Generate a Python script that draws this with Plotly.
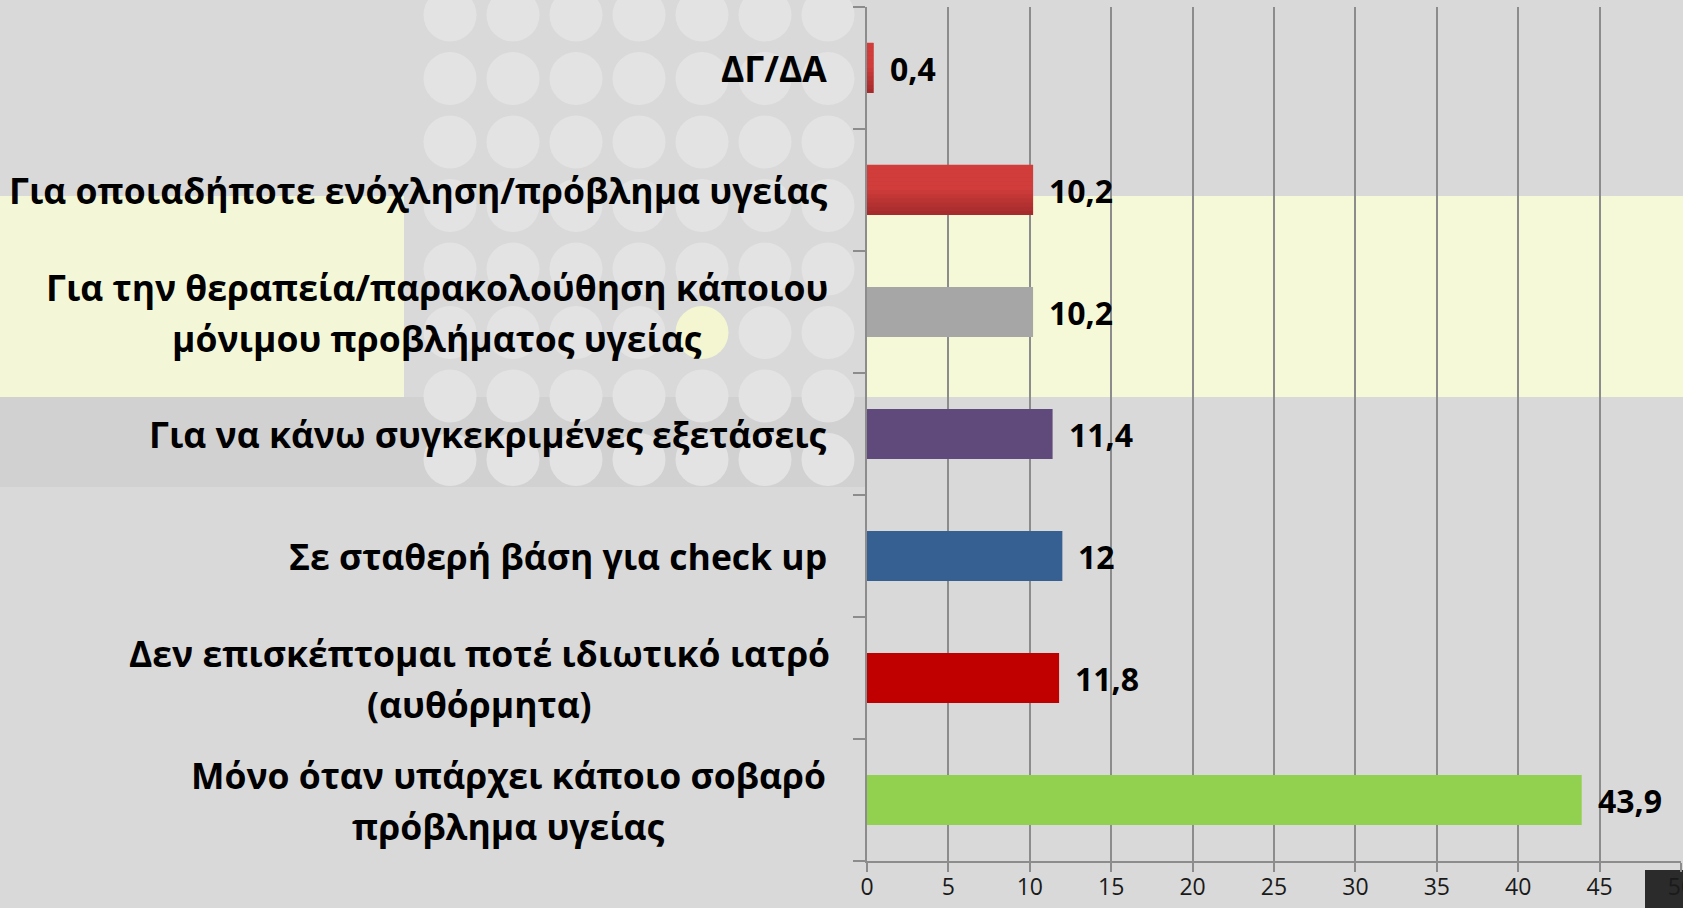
import plotly.graph_objects as go

# ---- data (bottom to top) ----
category_keys = [
    "Μόνο όταν υπάρχει κάποιο σοβαρό πρόβλημα υγείας",
    "Δεν επισκέπτομαι ποτέ ιδιωτικό ιατρό (αυθόρμητα)",
    "Σε σταθερή βάση για check up",
    "Για να κάνω συγκεκριμένες εξετάσεις",
    "Για την θεραπεία/παρακολούθηση κάποιου μόνιμου προβλήματος υγείας",
    "Για οποιαδήποτε ενόχληση/πρόβλημα υγείας",
    "ΔΓ/ΔΑ",
]
category_lines = [
    ["Μόνο όταν υπάρχει κάποιο σοβαρό", "πρόβλημα υγείας"],
    ["Δεν επισκέπτομαι ποτέ ιδιωτικό ιατρό", "(αυθόρμητα)"],
    ["Σε σταθερή βάση για check up"],
    ["Για να κάνω συγκεκριμένες εξετάσεις"],
    ["Για την θεραπεία/παρακολούθηση κάποιου", "μόνιμου προβλήματος υγείας"],
    ["Για οποιαδήποτε ενόχληση/πρόβλημα υγείας"],
    ["ΔΓ/ΔΑ"],
]
values = [43.9, 11.8, 12, 11.4, 10.2, 10.2, 0.4]
bar_colors = ["#92d050", "#c00000", "#376092", "#604a7b", "#a6a6a6", "#bd3737", "#c43a37"]
gradient_bars = [5, 6]   # bars drawn with a red top-to-bottom gradient
x_tickvals = [0, 5, 10, 15, 20, 25, 30, 35, 40, 45, 50]
x_ticktext = ["0", "5", "10", "15", "20", "25", "30", "35", "40", "45", "50"]

# ---- page geometry (pixels) ----
W, H = 1683, 908
L, R, T, B = 867, 2, 7, 47
PW, PH = W - L - R, H - T - B

def px(x):
    return (x - L) / PW

def py(y):
    return (H - B - y) / PH

BG = "#d9d9d9"
GRID = "#8c8c8c"
FONT = "Open Sans, Noto Sans, DejaVu Sans, sans-serif"
LABEL_RIGHT = 829            # right edge of category labels (px)
LINE_SPACING = 51            # px between lines of two-line labels
MULTI_CENTER = {0: 508, 1: 479, 4: 437}   # horizontal centres of two-line labels (px)
BAR_W = 0.41

fig = go.Figure()
fig.add_trace(go.Bar(
    x=values, y=category_keys, orientation="h", width=BAR_W,
    marker=dict(color=bar_colors, line=dict(width=0)),
    hoverinfo="x+y", showlegend=False,
))

# gradient overlay for the red bars (light top -> dark bottom)
N = 12
top_rgb = (0xd1, 0x3d, 0x3b)
bot_rgb = (0xa1, 0x2a, 0x2b)
gx = [values[i] for i in gradient_bars]
gy = [category_keys[i] for i in gradient_bars]
for s in range(N):
    t = (s + 0.5) / N                      # 0 = bottom, 1 = top
    f = min(1.0, t / 0.55)                 # upper part stays light
    c = tuple(round(b + (a - b) * f) for a, b in zip(top_rgb, bot_rgb))
    fig.add_trace(go.Bar(
        x=gx, y=gy, orientation="h", width=BAR_W / N + 0.002,
        offset=-BAR_W / 2 + s * BAR_W / N,
        marker=dict(color="rgb(%d,%d,%d)" % c, line=dict(width=0)),
        hoverinfo="skip", showlegend=False,
    ))

# value labels
value_text = [f"{v:g}".replace(".", ",") for v in values]
for k, v, t in zip(category_keys, values, value_text):
    fig.add_annotation(x=v, y=k, xref="x", yref="y", text=t, showarrow=False,
                       xanchor="left", yanchor="middle", xshift=14,
                       font=dict(family=FONT, size=32, color="#000000", weight="bold"))

# category labels
lab_font = dict(family=FONT, size=35.5, color="#000000", weight="bold")
for idx, (k, lines) in enumerate(zip(category_keys, category_lines)):
    n = len(lines)
    if n == 1:
        fig.add_annotation(x=px(LABEL_RIGHT), y=k, xref="paper", yref="y", text=lines[0],
                           showarrow=False, xanchor="right", yanchor="middle", font=lab_font)
    else:
        for j, line in enumerate(lines):
            fig.add_annotation(x=px(MULTI_CENTER[idx]), y=k, xref="paper", yref="y", text=line,
                               showarrow=False, xanchor="center", yanchor="middle",
                               yshift=((n - 1) / 2 - j) * LINE_SPACING, font=lab_font)

shapes = []
def rect(x0, y0, x1, y1, color):
    shapes.append(dict(type="rect", xref="paper", yref="paper", layer="below",
                       x0=px(x0), x1=px(x1), y0=py(y1), y1=py(y0),
                       fillcolor=color, line=dict(width=0)))

def circ(cx, cy, r, color):
    shapes.append(dict(type="circle", xref="paper", yref="paper", layer="below",
                       x0=px(cx - r), x1=px(cx + r), y0=py(cy + r), y1=py(cy - r),
                       fillcolor=color, line=dict(width=0)))

# background decoration
rect(0, 397, 867, 487, "#d1d1d1")
rect(0, 196, 404, 397, "#f3f7d8")
rect(867, 196, W, 397, "#f5f9d8")
for i in range(7):
    for j in range(8):
        cx = 450 + 63 * i
        cy = 15 + 63.5 * j
        col = "#f3f6d0" if (i == 4 and j == 5) else "#e3e3e3"
        circ(cx, cy, 26.5, col)
rect(1645, 870, W, H, "#2b2b2b")

fig.update_layout(
    width=W, height=H,
    margin=dict(l=L, r=R, t=T, b=B, pad=0, autoexpand=False),
    paper_bgcolor=BG, plot_bgcolor="rgba(0,0,0,0)",
    barmode="overlay",
    shapes=shapes,
    font=dict(family=FONT, color="#000000"),
    xaxis=dict(range=[0, 50], tickvals=x_tickvals, ticktext=x_ticktext, automargin=False,
               showgrid=True, gridcolor=GRID, gridwidth=1.5,
               zeroline=False, showline=True, linecolor=GRID, linewidth=2,
               ticks="outside", ticklen=9, tickcolor=GRID, tickwidth=2,
               ticklabelstandoff=-5, ticklabeloverflow="allow",
               tickfont=dict(family=FONT, size=23, color="#1a1a1a")),
    yaxis=dict(type="category", categoryorder="array", categoryarray=category_keys,
               range=[-0.5, 6.5], showticklabels=False, showgrid=False, automargin=False,
               zeroline=False, showline=True, linecolor=GRID, linewidth=2,
               ticks="outside", tickson="boundaries", ticklen=12,
               tickcolor=GRID, tickwidth=2),
)

fig.write_html("out.html", config={"displayModeBar": False},
               post_script="document.body.style.margin='0';document.body.style.overflow='hidden';")
